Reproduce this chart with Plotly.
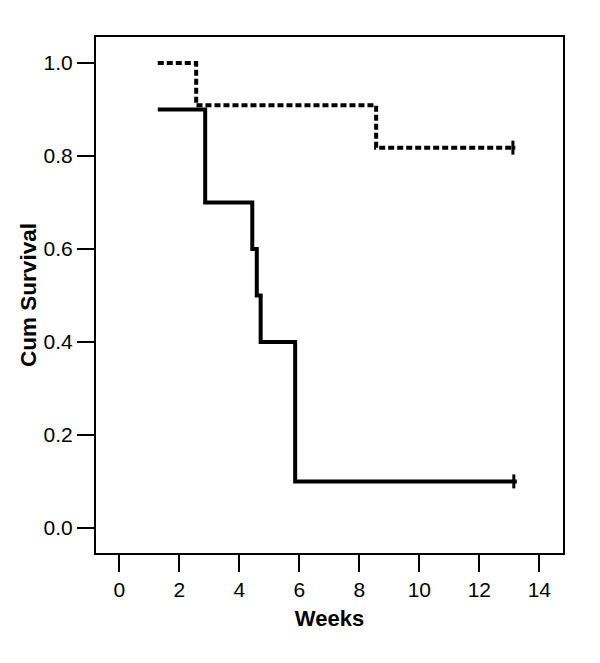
import plotly.graph_objects as go

# Kaplan-Meier step data (weeks, cumulative survival)
dashed_t = [1.28, 2.56, 8.56, 13.2]
dashed_s = [1.0, 0.909, 0.818, 0.818]
dashed_censor_t = [13.12]
dashed_censor_s = [0.818]

solid_t = [1.28, 2.86, 4.43, 4.58, 4.71, 5.86, 13.25]
solid_s = [0.9, 0.7, 0.6, 0.5, 0.4, 0.1, 0.1]
solid_censor_t = [13.15]
solid_censor_s = [0.1]

x_ticks = [0, 2, 4, 6, 8, 10, 12, 14]
y_ticks = [0.0, 0.2, 0.4, 0.6, 0.8, 1.0]
y_tick_labels = ["0.0", "0.2", "0.4", "0.6", "0.8", "1.0"]

fig = go.Figure()
fig.add_trace(go.Scatter(x=dashed_t, y=dashed_s, mode="lines", line_shape="hv",
                         line=dict(color="black", width=4, dash="6px,3px"),
                         showlegend=False, hoverinfo="skip"))
fig.add_trace(go.Scatter(x=solid_t, y=solid_s, mode="lines", line_shape="hv",
                         line=dict(color="black", width=4),
                         showlegend=False, hoverinfo="skip"))
fig.add_trace(go.Scatter(x=dashed_censor_t + solid_censor_t, y=dashed_censor_s + solid_censor_s,
                         mode="markers",
                         marker=dict(symbol="line-ns", size=10, line=dict(color="black", width=3)),
                         showlegend=False, hoverinfo="skip"))

font = "Liberation Sans, Arial, sans-serif"
fig.update_layout(
    width=600, height=663,
    margin=dict(l=88, r=45, t=29, b=118),
    plot_bgcolor="white", paper_bgcolor="white",
    font=dict(family=font, color="black"),
    xaxis=dict(range=[-0.78, 14.79], tickvals=x_ticks, ticks="outside", ticklen=17,
               tickwidth=2, tickcolor="black", showgrid=False, zeroline=False,
               showline=True, linewidth=2, linecolor="black", mirror=True,
               tickfont=dict(size=21, family=font),
               title=dict(text="<b>Weeks</b>", font=dict(size=22, family=font), standoff=10)),
    yaxis=dict(range=[-0.054, 1.056], tickvals=y_ticks, ticktext=y_tick_labels,
               ticks="outside", ticklen=17, tickwidth=2, tickcolor="black",
               showgrid=False, zeroline=False,
               showline=True, linewidth=2, linecolor="black", mirror=True,
               tickfont=dict(size=21, family=font),
               title=dict(text="<b>Cum Survival</b>", font=dict(size=22.5, family=font), standoff=1)),
)

fig.write_html("out.html")
